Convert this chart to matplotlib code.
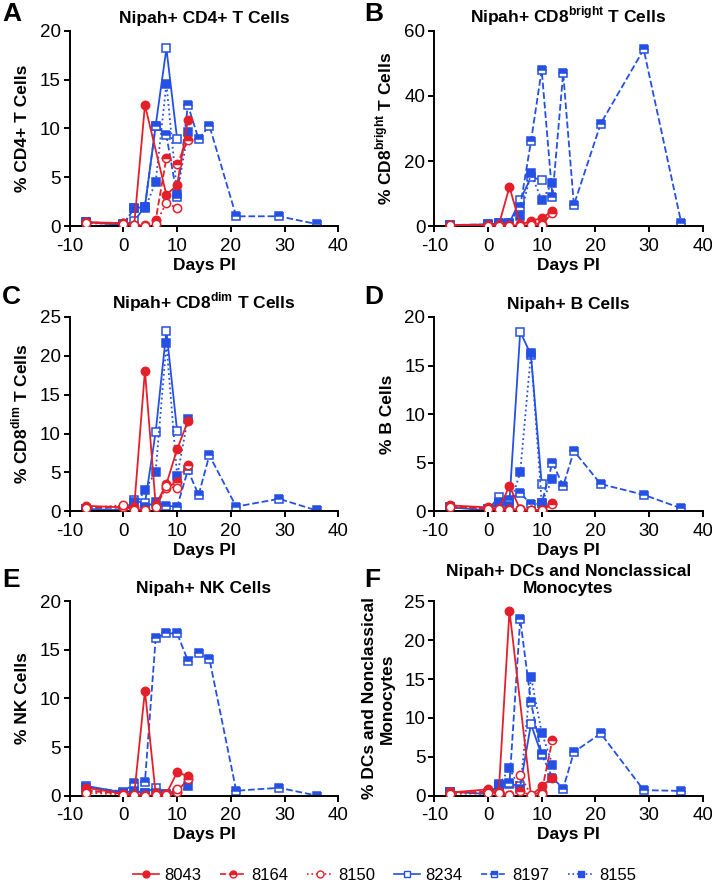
import matplotlib
matplotlib.use("Agg")
import matplotlib.pyplot as plt
from matplotlib.lines import Line2D

plt.rcParams["font.family"] = ["Liberation Sans", "DejaVu Sans"]
plt.rcParams["mathtext.fontset"] = "custom"
plt.rcParams["mathtext.rm"] = "Liberation Sans"
plt.rcParams["mathtext.bf"] = "Liberation Sans:bold"
plt.rcParams["axes.unicode_minus"] = False

# sampling days (days post infection)
days_full = [-7, 0, 2, 4, 6, 8, 10, 12, 14, 16, 21, 29, 36]
days_12 = [-7, 0, 2, 4, 6, 8, 10, 12]
days_10 = [-7, 0, 2, 4, 6, 8, 10]
days_8043 = [-7, 0, 2, 4, 8, 10, 12]

animals = ["8043", "8164", "8150", "8234", "8197", "8155"]

# A: CD4+ T cells
cd4_8043 = [0.4, 0.3, 0.1, 12.4, 3.2, 4.2, 10.9]
cd4_8164 = [0.3, 0.3, 0.1, 0.1, 0.6, 7.0, 6.4, 8.8]
cd4_8150 = [0.3, 0.2, 0.1, 0.0, 0.2, 2.4, 1.8]
cd4_8234 = [0.4, 0.1, 0.5, 2.0, 10.3, 18.2, 8.9]
cd4_8197 = [0.4, 0.2, 1.8, 2.0, 10.3, 9.3, 3.0, 12.4, 8.9, 10.3, 1.0, 1.0, 0.2]
cd4_8155 = [0.4, 0.2, 1.8, 1.8, 4.5, 14.6, 3.3, 9.6]

# B: CD8 bright T cells
cd8b_8043 = [0.3, 0.3, 0.3, 12.0, 0.5, 1.5, 2.5, 4.5]
cd8b_8164 = [0.2, 0.2, 0.2, 0.2, 0.3, 1.0, 0.5, 4.0]
cd8b_8150 = [0.2, 0.1, 0.1, 0.1, 0.1, 0.3, 0.2]
cd8b_8234 = [0.3, 0.5, 0.8, 1.0, 8.0, 15.0, 14.2]
cd8b_8197 = [0.3, 0.5, 0.8, 1.0, 6.0, 26.0, 48.0, 9.0, 47.0, 6.5, 31.5, 54.3, 1.0]
cd8b_8155 = [0.3, 0.3, 0.5, 0.5, 3.0, 16.2, 8.0, 13.2]

# C: CD8 dim T cells
cd8d_8043 = [0.7, 0.5, 0.5, 18.1, 0.8, 3.5, 8.0, 11.6]
cd8d_8164 = [0.5, 0.5, 0.3, 0.1, 0.7, 3.0, 3.8, 6.0]
cd8d_8150 = [0.4, 0.8, 0.2, 0.1, 0.5, 3.2, 3.0]
cd8d_8234 = [0.3, 0.1, 1.4, 1.0, 10.2, 23.2, 10.3]
cd8d_8197 = [0.3, 0.2, 1.2, 0.5, 1.2, 0.7, 0.6, 5.3, 2.1, 7.2, 0.6, 1.6, 0.1]
cd8d_8155 = [0.3, 0.2, 0.5, 2.7, 5.1, 21.6, 4.5, 11.9]

# D: B cells
b_8043 = [0.6, 0.4, 0.2, 2.6, 0.2, 0.1, 0.1, 0.9]
b_8164 = [0.5, 0.3, 0.2, 0.2, 0.2, 0.1, 0.1, 0.7]
b_8150 = [0.4, 0.2, 0.2, 0.1, 0.2, 0.1, 0.1]
b_8234 = [0.4, 0.1, 1.5, 1.0, 18.5, 16.1, 2.8]
b_8197 = [0.4, 0.2, 1.0, 1.2, 1.9, 0.7, 0.8, 5.0, 2.6, 6.2, 2.8, 1.7, 0.3]
b_8155 = [0.4, 0.2, 0.8, 0.5, 4.0, 16.3, 0.9, 3.3]

# E: NK cells
nk_8043 = [0.8, 0.2, 0.1, 10.8, 0.2, 0.2, 2.4, 2.0]
nk_8164 = [0.5, 0.2, 0.1, 0.1, 0.3, 0.2, 0.4, 1.7]
nk_8150 = [0.3, 0.1, 0.1, 0.0, 0.1, 0.1, 0.7]
nk_8234 = [1.0, 0.3, 0.5, 0.3, 0.8, 0.2, 0.3]
nk_8197 = [0.9, 0.4, 1.3, 1.4, 16.2, 16.7, 16.7, 13.9, 14.7, 14.1, 0.5, 0.8, 0.0]
nk_8155 = [0.5, 0.2, 0.4, 0.3, 0.3, 0.2, 0.0, 1.0]

# F: DCs and nonclassical monocytes
dc_8043 = [0.4, 0.8, 0.4, 23.8, 0.0, 1.2, 2.3]
dc_8164 = [0.4, 0.5, 0.5, 0.1, 0.6, 0.0, 0.5, 7.2]
dc_8150 = [0.2, 0.3, 0.3, 0.1, 2.6, 0.1, 0.2]
dc_8234 = [0.5, 0.2, 1.3, 1.5, 1.2, 9.2, 5.2]
dc_8197 = [0.5, 0.3, 1.5, 1.6, 22.7, 12.0, 5.3, 2.3, 0.9, 5.6, 8.0, 0.7, 0.6]
dc_8155 = [0.5, 0.2, 1.3, 3.5, 0.8, 15.3, 8.1, 4.0]

RED = "#E3202A"
BLUE = "#2450E3"

styles = {
    "8043": dict(color=RED, ls="-", marker="o", mfc=RED, fillstyle="full"),
    "8164": dict(color=RED, ls="--", marker="o", mfc=RED, fillstyle="top", mfcalt="white"),
    "8150": dict(color=RED, ls=":", marker="o", mfc="white", fillstyle="full"),
    "8234": dict(color=BLUE, ls="-", marker="s", mfc="white", fillstyle="full"),
    "8197": dict(color=BLUE, ls="--", marker="s", mfc=BLUE, fillstyle="top", mfcalt="white"),
    "8155": dict(color=BLUE, ls=":", marker="s", mfc=BLUE, fillstyle="full"),
}

# letter, title, ylabel, ymax, ystep, series, axes rect, letter position (fig px)
panels = [
    ("A", "Nipah+ CD4+ T Cells", "% CD4+ T Cells", 20, 5,
     [cd4_8043, cd4_8164, cd4_8150, cd4_8234, cd4_8197, cd4_8155],
     [0.098, 0.744, 0.377, 0.221], (2, 2)),
    ("B", r"Nipah+ CD8$^{\mathbf{bright}}$ T Cells", r"% CD8$^{\mathbf{bright}}$ T Cells", 60, 20,
     [cd8b_8043, cd8b_8164, cd8b_8150, cd8b_8234, cd8b_8197, cd8b_8155],
     [0.610, 0.744, 0.377, 0.221], (364, 2)),
    ("C", r"Nipah+ CD8$^{\mathbf{dim}}$ T Cells", r"% CD8$^{\mathbf{dim}}$ T Cells", 25, 5,
     [cd8d_8043, cd8d_8164, cd8d_8150, cd8d_8234, cd8d_8197, cd8d_8155],
     [0.098, 0.421, 0.377, 0.220], (2, 285)),
    ("D", "Nipah+ B Cells", "% B Cells", 20, 5,
     [b_8043, b_8164, b_8150, b_8234, b_8197, b_8155],
     [0.610, 0.421, 0.377, 0.220], (364, 285)),
    ("E", "Nipah+ NK Cells", "% NK Cells", 20, 5,
     [nk_8043, nk_8164, nk_8150, nk_8234, nk_8197, nk_8155],
     [0.098, 0.099, 0.377, 0.220], (2, 568)),
    ("F", "Nipah+ DCs and Nonclassical\nMonocytes", "% DCs and Nonclassical\nMonocytes", 25, 5,
     [dc_8043, dc_8164, dc_8150, dc_8234, dc_8197, dc_8155],
     [0.610, 0.099, 0.377, 0.220], (364, 568)),
]


def days_for(animal, n):
    if n == len(days_full):
        return days_full
    if n == len(days_12):
        return days_12
    if animal == "8043" and n == 7:
        return days_8043
    return days_10


W, H = 712, 883
fig = plt.figure(figsize=(W / 100, H / 100), dpi=100)

for letter, title, ylabel, ymax, ystep, series, rect, lpos in panels:
    ax = fig.add_axes(rect)
    # blue animals underneath, red on top
    for i in [3, 4, 5, 0, 1, 2]:
        name = animals[i]
        vals = series[i]
        st = styles[name]
        ax.plot(days_for(name, len(vals)), vals, lw=1.3, ms=6, mew=1.1,
                mec=st["color"], zorder=3 if st["color"] == RED else 2, **st)
    ax.set_xlim(-10, 40)
    ax.set_ylim(0, ymax)
    ax.set_xticks(range(-10, 41, 10))
    ax.set_yticks(range(0, ymax + 1, ystep))
    for s in ["top", "right"]:
        ax.spines[s].set_visible(False)
    for s in ["left", "bottom"]:
        ax.spines[s].set_linewidth(1.4)
    ax.tick_params(width=1.4, length=4.5, labelsize=13.5)
    ax.tick_params(axis="x", pad=4)
    ax.tick_params(axis="y", pad=2)
    ax.set_xlabel("Days PI", fontsize=12.5, fontweight="bold", labelpad=2)
    ax.set_ylabel(ylabel, fontsize=12.5, fontweight="bold", labelpad=7)
    ax.set_title(title, fontsize=12.5, fontweight="bold", pad=6)
    fig.text(lpos[0] / W, 1 - lpos[1] / H, letter, fontsize=19,
             fontweight="bold", va="top", ha="left")

handles = [Line2D([], [], lw=1.2, ms=5, mew=1.0, mec=styles[a]["color"], **styles[a])
           for a in animals]
fig.legend(handles, animals, loc="center", bbox_to_anchor=(0.54, 0.009), ncol=6,
           frameon=False, fontsize=12, handlelength=1.6, handletextpad=0.3,
           columnspacing=1.1, borderpad=0.1)

fig.savefig("out.png", dpi=100)
